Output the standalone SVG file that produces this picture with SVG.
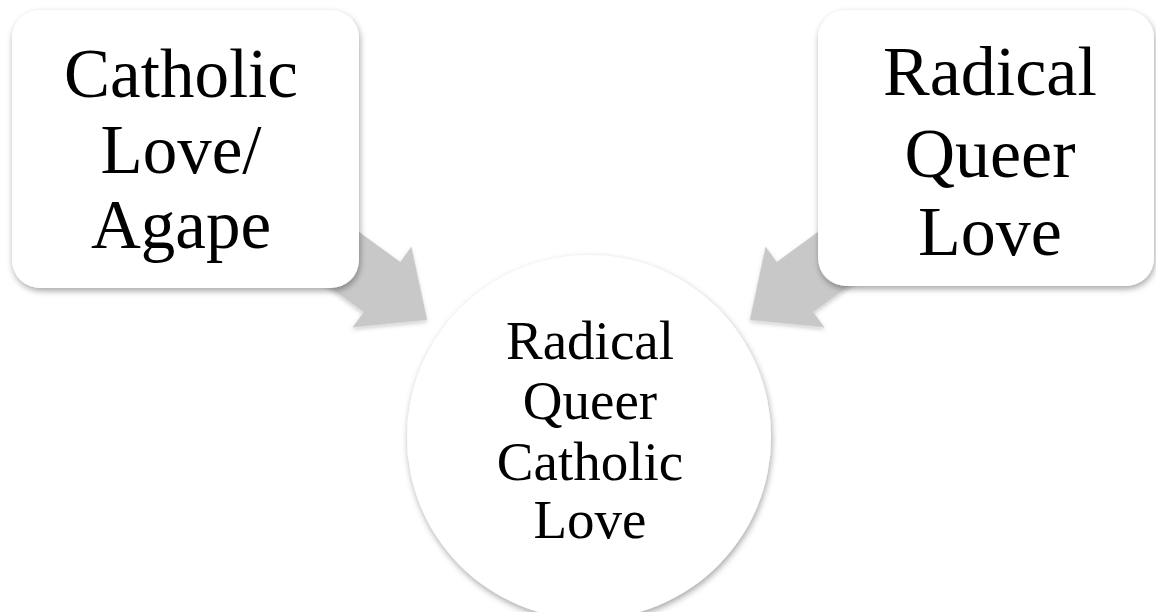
<svg xmlns="http://www.w3.org/2000/svg" width="1156" height="612" viewBox="0 0 1156 612">
<style>
.lbl{font-family:"Liberation Serif","Times New Roman",serif;fill:#000;text-anchor:middle}
.node{fill:#fff;filter:url(#sh)}
.arr{fill:#c8c8c8;filter:url(#ash)}
</style>
<defs>
<filter id="sh" x="-20%" y="-20%" width="140%" height="140%">
<feDropShadow dx="1" dy="3" stdDeviation="3" flood-color="#000" flood-opacity="0.35"/>
</filter>
<filter id="ash" x="-20%" y="-20%" width="140%" height="140%">
<feDropShadow dx="1" dy="2" stdDeviation="2" flood-color="#000" flood-opacity="0.2"/>
</filter>
<polygon id="arrowShape" points="-170,-31 0,-31 0,-50 56,0 0,50 0,31 -170,31"/>
</defs>
<rect width="1156" height="612" fill="#fff"/>
<g id="connectors">
<use href="#arrowShape" class="arr" transform="translate(382,287) rotate(36.1)"/>
<use href="#arrowShape" class="arr" transform="translate(795,287) scale(-1,1) rotate(36.1)"/>
</g>
<g id="node-catholic">
<rect class="node" x="12" y="10" width="347" height="278" rx="28"/>
<text class="lbl" font-size="69" x="181"><tspan x="181" y="97">Catholic</tspan><tspan x="181" y="173">Love/</tspan><tspan x="181" y="248">Agape</tspan></text>
</g>
<g id="node-queer">
<rect class="node" x="818" y="10" width="336" height="276" rx="28"/>
<text class="lbl" font-size="70" x="990"><tspan x="990" y="95">Radical</tspan><tspan x="990" y="177">Queer</tspan><tspan x="990" y="255">Love</tspan></text>
</g>
<g id="node-center">
<circle class="node" cx="589" cy="437" r="182"/>
<text class="lbl" font-size="55" x="590"><tspan x="590" y="359">Radical</tspan><tspan x="590" y="419">Queer</tspan><tspan x="590" y="480">Catholic</tspan><tspan x="590" y="538">Love</tspan></text>
</g>
</svg>
